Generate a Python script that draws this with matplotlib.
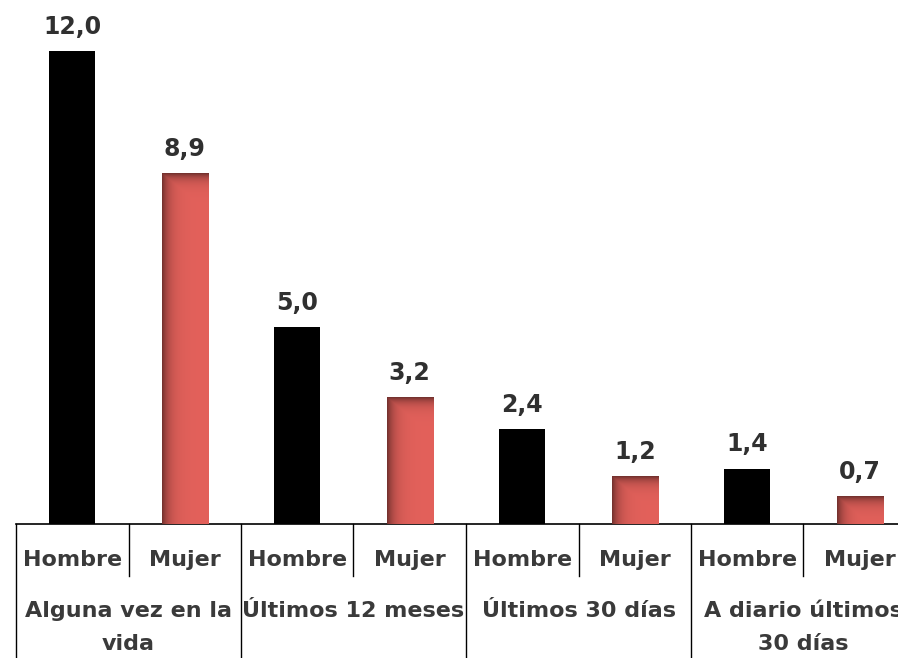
import numpy as np
import matplotlib.pyplot as plt
from matplotlib.colors import to_rgb

groups = ['Alguna vez en la\nvida', 'Últimos 12 meses', 'Últimos 30 días', 'A diario últimos\n30 días']
sexes = ['Hombre', 'Mujer']
hombre = [12.0, 5.0, 2.4, 1.4]
mujer = [8.9, 3.2, 1.2, 0.7]

black = '#000000'
red = '#E3615B'
txt = '#3A3A3A'

fig = plt.figure(figsize=(8.98, 6.58), dpi=100)
ax = fig.add_axes([16 / 898, 134 / 658, 900 / 898, 524 / 658])

values = []
for h, m in zip(hombre, mujer):
    values += [h, m]
x = np.arange(len(values))
colors = [black, red] * len(groups)
bw = 0.41
bars = ax.bar(x, values, width=bw, color=colors, zorder=2)

ax.set_xlim(-0.5, len(values) - 0.5)
ax.set_ylim(0, 524 / 39.4)

# shaded look on the red bars
px_per_unit = 39.4
base = np.array(to_rgb(red))
for b, v in zip(bars[1::2], mujer):
    ny = max(int(v * px_per_unit), 2)
    nx = 46
    xx = np.arange(nx)[None, :]
    yy = np.arange(ny)[:, None]
    shade = np.maximum(np.exp(-xx / 7.0), np.exp(-yy / 6.0))
    fac = 1 - 0.48 * shade
    img = base[None, None, :] * fac[:, :, None]
    ax.imshow(img, extent=[b.get_x(), b.get_x() + b.get_width(), 0, v],
              aspect='auto', origin='upper', zorder=3, interpolation='bilinear')

for xi, v in zip(x, values):
    ax.annotate(f'{v:.1f}'.replace('.', ','), (xi, v), xytext=(0, 9), textcoords='offset points',
                ha='center', va='bottom', fontsize=17, fontweight='bold', color='#303030')

for s in ['top', 'right', 'left']:
    ax.spines[s].set_visible(False)
ax.spines['bottom'].set_color('black')
ax.spines['bottom'].set_linewidth(1.2)
ax.set_yticks([])
ax.set_xticks([])

tr = ax.get_xaxis_transform()
for i in range(len(values)):
    lo = -0.256 if i % 2 == 0 else -0.099
    ax.plot([i - 0.5, i - 0.5], [0, lo], transform=tr, color='black', lw=1, clip_on=False)
    ax.text(i, -0.0687, sexes[i % 2], transform=tr, ha='center', va='center',
            fontsize=16, fontweight='bold', color=txt)
for g, name in enumerate(groups):
    ax.text(2 * g + 0.5, -0.147, name, transform=tr, ha='center', va='top',
            fontsize=16, fontweight='bold', color=txt, linespacing=1.78)

fig.savefig('out.png', dpi=100)
